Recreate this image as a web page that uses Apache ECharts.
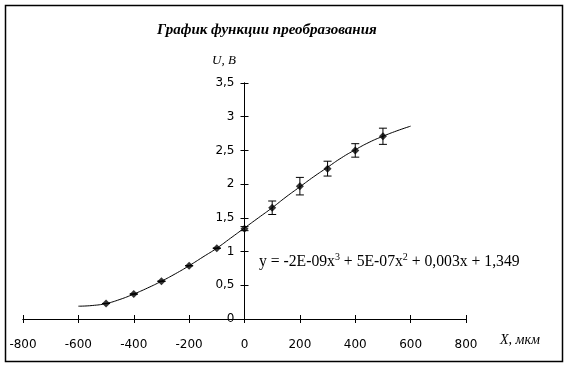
<!DOCTYPE html>
<html><head><meta charset="utf-8">
<script src="https://cdn.jsdelivr.net/npm/echarts@6/dist/echarts.min.js"></script>
<style>html,body{margin:0;padding:0;background:#fff}#c{width:570px;height:367px}</style>
</head><body><div id="c"></div>
<script>
// Data
var xPoints = [-500, -400, -300, -200, -100, 0, 100, 200, 300, 400, 500];
var uValues = [0.23, 0.37, 0.56, 0.79, 1.05, 1.34, 1.65, 1.97, 2.23, 2.50, 2.71];
var uErrors = [0, 0, 0, 0, 0, 0.03, 0.10, 0.13, 0.11, 0.10, 0.12];
var trendX = [-600, -550, -500, -450, -400, -350, -300, -250, -200, -150, -100, -50, 0, 50, 100, 150, 200, 250, 300, 350, 400, 450, 500, 550, 600];
var trendU = [0.19, 0.20, 0.23, 0.29, 0.37, 0.46, 0.56, 0.67, 0.79, 0.92, 1.05, 1.20, 1.35, 1.50, 1.65, 1.81, 1.96, 2.11, 2.25, 2.39, 2.51, 2.62, 2.71, 2.79, 2.86];
var xTicks = [-800, -600, -400, -200, 0, 200, 400, 600, 800];
var yTicks = [0, 0.5, 1, 1.5, 2, 2.5, 3, 3.5];
var titleText = 'График функции преобразования';
var xName = 'X, мкм';
var yName = 'U, B';

var chart = echarts.init(document.getElementById('c'), null, {renderer: 'canvas'});
var points = xPoints.map(function (x, i) { return [x, uValues[i]]; });
var errs = xPoints.map(function (x, i) { return [x, uValues[i] - uErrors[i], uValues[i] + uErrors[i]]; });
var trend = trendX.map(function (x, i) { return [x, trendU[i]]; });
var fmt = function (v) { return String(v).replace('.', ','); };
var sans = 'DejaVu Sans';
var serif = 'Liberation Serif';
var gridW = 443;

function xAx(inside, show) {
  return {
    type: 'value', position: 'bottom', min: xTicks[0], max: xTicks[xTicks.length - 1], interval: 200,
    splitLine: {show: false},
    axisLine: {show: true, onZero: false, lineStyle: {color: '#000', width: 1}},
    axisTick: {show: true, inside: inside, length: 4, lineStyle: {color: '#000'}},
    axisLabel: {show: show, margin: 20, color: '#000', fontFamily: sans, fontSize: 12,
      formatter: function (v) { return xTicks.indexOf(v) >= 0 ? fmt(v) : ''; }}
  };
}
function yAx(inside, show) {
  return {
    type: 'value', position: 'left', offset: -gridW / 2,
    min: yTicks[0], max: yTicks[yTicks.length - 1], interval: 0.5,
    splitLine: {show: false},
    axisLine: {show: true, onZero: false, lineStyle: {color: '#000', width: 1}},
    axisTick: {show: true, inside: inside, length: 4, lineStyle: {color: '#000'}},
    axisLabel: {show: show, margin: 10, color: '#000', fontFamily: sans, fontSize: 12,
      formatter: function (v) { return yTicks.indexOf(v) >= 0 ? fmt(v) : ''; }}
  };
}

chart.setOption({
  animation: false,
  backgroundColor: '#fff',
  title: {
    text: titleText, left: 152, top: 18,
    textStyle: {fontFamily: serif, fontStyle: 'italic', fontWeight: 'bold', fontSize: 15, color: '#000'}
  },
  grid: {left: 23, top: 83, width: gridW, height: 236, outerBoundsMode: 'none', containLabel: false},
  xAxis: [xAx(false, true), xAx(true, false)],
  yAxis: [yAx(false, true), yAx(true, false)],
  graphic: [
    {type: 'rect', shape: {x: 5.5, y: 5.5, width: 557, height: 356}, style: {fill: 'none', stroke: '#000', lineWidth: 1.5}, silent: true},
    {type: 'text', left: 212, top: 54, style: {text: yName, font: 'italic 13px "Liberation Serif"', fill: '#000'}},
    {type: 'text', left: 500, top: 333, style: {text: xName, font: 'italic 14px "Liberation Serif"', fill: '#000'}},
    {type: 'text', left: 259, top: 252, style: {
      text: '{n|y = -2E-09x}{s|3}{n| + 5E-07x}{s|2}{n| + 0,003x + 1,349}',
      rich: {
        n: {fontFamily: serif, fontSize: 15.7, fill: '#000', color: '#000', verticalAlign: 'bottom', lineHeight: 18},
        s: {fontFamily: serif, fontSize: 10, fill: '#000', color: '#000', verticalAlign: 'top', lineHeight: 18, padding: [0, 0, 9, 0]}
      }
    }}
  ],
  series: [
    {
      type: 'line', data: trend, smooth: true, symbol: 'none', xAxisIndex: 0, yAxisIndex: 0,
      lineStyle: {color: '#000', width: 1}, z: 2
    },
    {
      type: 'custom', xAxisIndex: 0, yAxisIndex: 0, data: errs, z: 3,
      renderItem: function (params, api) {
        var x = api.value(0);
        var lo = api.coord([x, api.value(1)]);
        var hi = api.coord([x, api.value(2)]);
        var w = 4;
        return {
          type: 'group',
          children: [
            {type: 'line', shape: {x1: lo[0], y1: lo[1], x2: hi[0], y2: hi[1]}, style: {stroke: '#000', lineWidth: 1}},
            {type: 'line', shape: {x1: lo[0] - w, y1: lo[1], x2: lo[0] + w, y2: lo[1]}, style: {stroke: '#000', lineWidth: 1}},
            {type: 'line', shape: {x1: hi[0] - w, y1: hi[1], x2: hi[0] + w, y2: hi[1]}, style: {stroke: '#000', lineWidth: 1}}
          ]
        };
      }
    },
    {
      type: 'scatter', data: points, xAxisIndex: 0, yAxisIndex: 0,
      symbol: 'diamond', symbolSize: 8, itemStyle: {color: '#000'}, z: 4
    }
  ]
});
</script></body></html>
